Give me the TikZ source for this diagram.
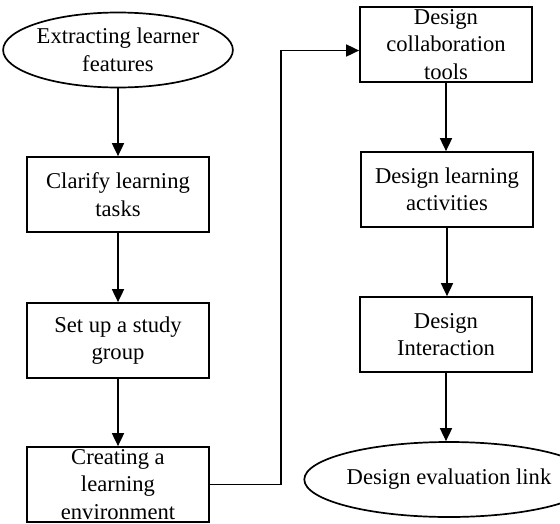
\documentclass[tikz,border=0pt]{standalone}
\usepackage{fontspec}
\setmainfont{Liberation Serif}
\usetikzlibrary{shapes.geometric,arrows.meta}

\tikzset{
  stepbox/.style={draw, line width=1.7pt, minimum width=182pt, minimum height=75pt,
    inner sep=0pt, align=center},
  endcap/.style={draw, ellipse, line width=1.7pt, minimum width=227pt, minimum height=75pt,
    inner sep=0pt, align=center},
  flow/.style={line width=1.7pt, -{Triangle[length=13pt,width=12pt]}}
}

\begin{document}
\begin{tikzpicture}[x=1pt, y=-1pt, font=\fontsize{22.6}{27.5}\selectfont]
    \useasboundingbox (0,0) rectangle (560,523);
    % left column
    \node[endcap] (features) at (118,50) {Extracting learner\\features};
    \node[stepbox] (tasks) at (118,194.5) {Clarify learning\\tasks};
    \node[stepbox] (group) at (118,340.5) {Set up a study\\group};
    \node[stepbox] (environment) at (118,484.5) {Creating a\\learning\\environment};
    % right column
    \node[stepbox, minimum width=172pt] (tools) at (446,44.5) {Design\\collaboration\\tools};
    \node[stepbox, minimum width=172pt] (activities) at (447,189.5) {Design learning\\activities};
    \node[stepbox, minimum width=172pt] (interaction) at (446,334.5) {Design\\Interaction};
    \node[endcap, minimum width=222pt] (evaluation) at (449,479.5) {Design evaluation link};

    \draw[flow] (features) -- (tasks);
    \draw[flow] (tasks) -- (group);
    \draw[flow] (group) -- (environment);
    \draw[flow] (environment.east) -- ++(71,0) |- ([yshift=-6pt]tools.west);
    \draw[flow] (tools.south) -- (tools.south |- activities.north);
    \draw[flow] (activities.south) -- (activities.south |- interaction.north);
    \draw[flow] (interaction.south) -- (interaction.south |- evaluation.north);
\end{tikzpicture}
\end{document}
